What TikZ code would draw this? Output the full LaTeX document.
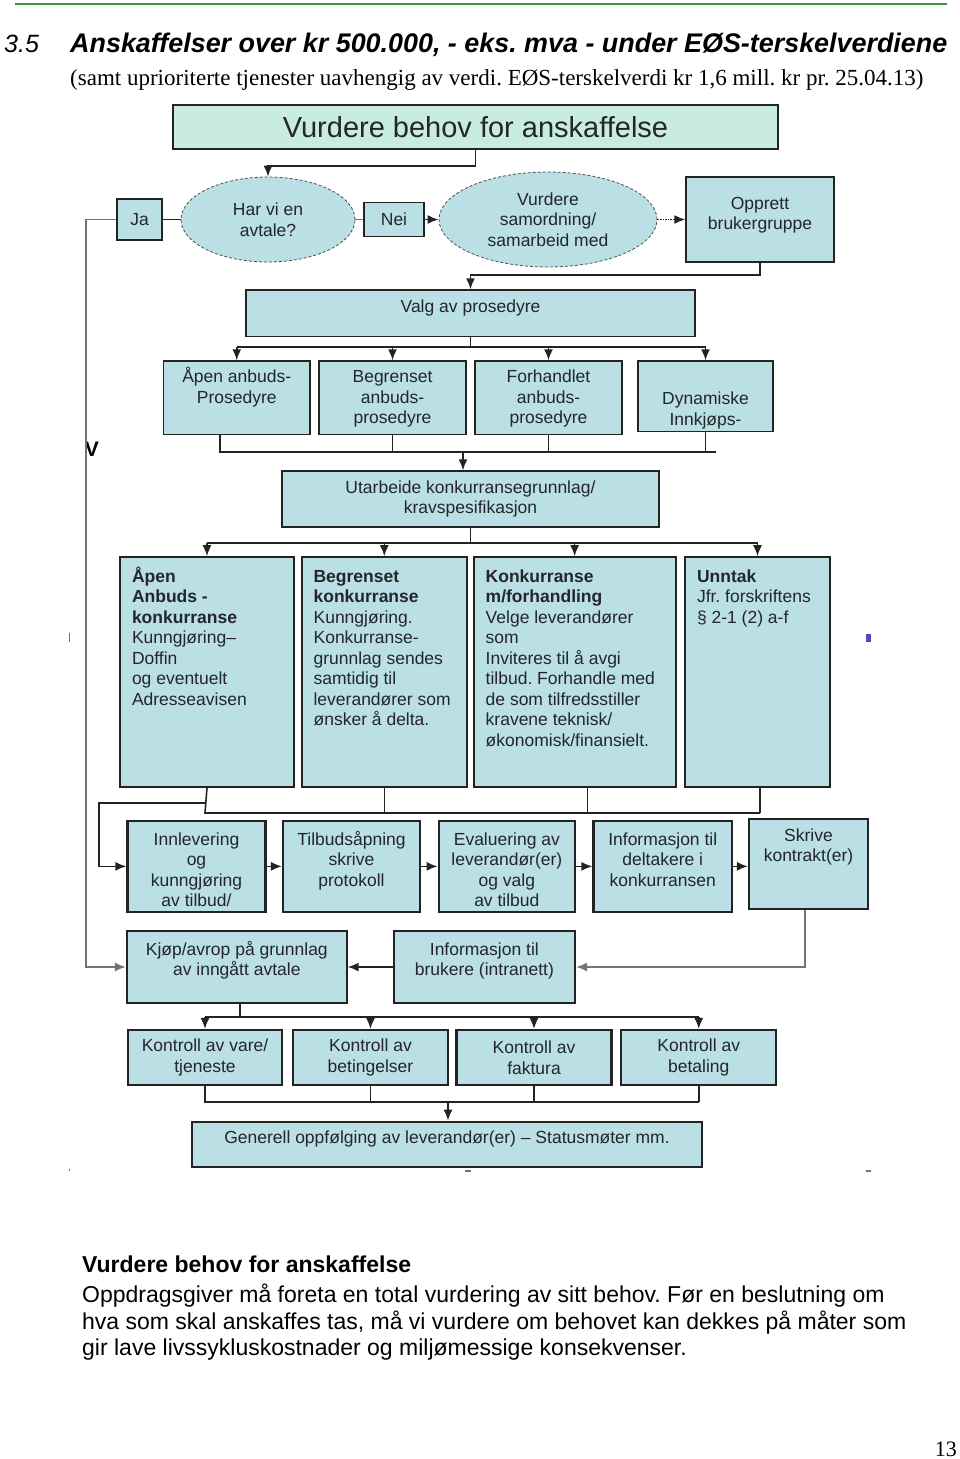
\documentclass[tikz,border=0pt]{standalone}
\usepackage{fontspec}
\setmainfont{Liberation Serif}
\newfontfamily\dsans{Liberation Sans}
\usetikzlibrary{shapes.geometric,arrows.meta}
\frenchspacing

\definecolor{boxblue}{RGB}{186,223,228}
\definecolor{topmint}{RGB}{200,237,222}
\definecolor{boxline}{RGB}{35,35,35}
\definecolor{txtcol}{RGB}{35,38,42}
\definecolor{rulegreen}{RGB}{60,150,60}
\definecolor{linkgray}{RGB}{115,115,115}

% text in a box of fixed size, first baseline #3 below the top
\newcommand{\boxtxt}[4]{\parbox[c][#2][t]{#1}{\hbox{}\vskip\dimexpr#3-\baselineskip\relax#4}}

\tikzset{
  box/.style={draw=boxline, fill=boxblue, line width=1.4pt, inner sep=0pt,
    text=txtcol, font=\dsans\fontsize{17.5}{20.5}\selectfont},
  bigbox/.style={box, line width=2.2pt},
  oval/.style={ellipse, draw=boxline!80, densely dashed, line width=0.8pt,
    fill=boxblue, inner sep=0pt, align=center, text=txtcol,
    font=\dsans\fontsize{17.5}{20.5}\selectfont},
  link/.style={draw=boxline, line width=1.6pt},
  graylink/.style={draw=linkgray, line width=1.7pt}
}

\begin{document}
\begin{tikzpicture}[x=1pt,y=-1pt,>={Latex[length=11pt,width=9pt]}]
\useasboundingbox (0,0) rectangle (960,1459);

% heading
\draw[rulegreen,line width=1.5pt] (15,4) -- (947,4);
\node[anchor=base west,inner sep=0,font=\dsans\itshape\fontsize{25}{30}\selectfont] (secno) at (4,52) {3.5};
\node[anchor=base west,inner sep=0,font=\dsans\bfseries\itshape\fontsize{26.9}{30}\selectfont] (title) at (70,52)
  {Anskaffelser over kr 500.000, - eks. mva - under EØS-terskelverdiene};
\node[anchor=base west,inner sep=0,font=\fontsize{23}{26}\selectfont] (subtitle) at (70,85)
  {(samt uprioriterte tjenester uavhengig av verdi. EØS-terskelverdi kr 1,6 mill. kr pr. 25.04.13)};

% need and agreement
\node[box,fill=topmint,minimum width=605,minimum height=44,font=\dsans\fontsize{29}{32}\selectfont] (behov) at (475.5,127) {Vurdere behov for anskaffelse};
\node[oval,minimum width=174,minimum height=85] (avtale) at (268,219.5) {Har vi en\\avtale?};
\node[box,minimum width=45,minimum height=41] (ja) at (139.5,219.5) {Ja};
\node[box,minimum width=60,minimum height=34] (nei) at (394,219.5) {Nei};
\node[oval,minimum width=218,minimum height=95] (samord) at (548,219.5) {Vurdere\\samordning/\\samarbeid med};
\node[box] (bruker) at (760,219.5) {\boxtxt{148pt}{85pt}{32pt}{\centering Opprett\\brukergruppe}};
\node[font=\dsans\bfseries\fontsize{21}{24}\selectfont,inner sep=0] (vmark) at (92,449) {V};

% procedures
\node[box] (valg) at (470.5,313.25) {\boxtxt{449pt}{46.5pt}{22pt}{\centering Valg av prosedyre}};
\node[box] (aapen) at (236.75,397.6) {\boxtxt{146.5pt}{73.3pt}{22pt}{\centering Åpen anbuds-\\Prosedyre}};
\node[box] (begr) at (392.5,397.6) {\boxtxt{147pt}{73.3pt}{22pt}{\centering Begrenset\\anbuds-\\prosedyre}};
\node[box] (forh) at (548.5,397.6) {\boxtxt{147pt}{73.3pt}{22pt}{\centering Forhandlet\\anbuds-\\prosedyre}};
\node[box] (dyn) at (705.5,396.3) {\boxtxt{135pt}{70.7pt}{44pt}{\centering Dynamiske\\Innkjøps-}};
\node[box,minimum width=377,minimum height=56,align=center] (utarb) at (470.5,499) {Utarbeide konkurransegrunnlag/\\kravspesifikasjon};

% competition forms
\node[bigbox] (apenk) at (207,672) {\boxtxt{174pt}{229.4pt}{24.7pt}{\raggedright\leftskip=12pt
  \textbf{Åpen}\\\textbf{Anbuds -}\\\textbf{konkurranse}\\Kunngjøring–\\Doffin\\og eventuelt\\Adresseavisen}};
\node[bigbox] (begrk) at (384.3,672) {\boxtxt{165.4pt}{229.4pt}{24.7pt}{\raggedright\leftskip=12pt
  \textbf{Begrenset}\\\textbf{konkurranse}\\Kunngjøring.\\Konkurranse-\\grunnlag sendes\\samtidig til\\leverandører som\\ønsker å delta.}};
\node[bigbox] (forhk) at (574.65,672) {\boxtxt{201.9pt}{229.4pt}{24.7pt}{\raggedright\leftskip=12pt
  \textbf{Konkurranse}\\\textbf{m/forhandling}\\Velge leverandører\\som\\Inviteres til å avgi\\tilbud. Forhandle med\\de som tilfredsstiller\\kravene teknisk/\\økonomisk/finansielt.}};
\node[bigbox] (unntak) at (757.5,672) {\boxtxt{145pt}{229.4pt}{24.7pt}{\raggedright\leftskip=12pt
  \textbf{Unntak}\\Jfr. forskriftens\\§ 2-1 (2) a-f}};

% tender steps
\node[bigbox] (innlev) at (196.5,866.35) {\boxtxt{138pt}{90.7pt}{24pt}{\centering Innlevering\\og\\kunngjøring\\av tilbud/}};
\node[bigbox] (tilbud) at (351.5,866.35) {\boxtxt{137pt}{90.7pt}{24pt}{\centering Tilbudsåpning\\skrive\\protokoll}};
\node[bigbox] (evalu) at (506.85,866.35) {\boxtxt{136.3pt}{90.7pt}{24pt}{\centering Evaluering av\\leverandør(er)\\og valg\\av tilbud}};
\node[bigbox] (infodel) at (662.75,866.35) {\boxtxt{138.5pt}{90.7pt}{24pt}{\centering Informasjon til\\deltakere i\\konkurransen}};
\node[bigbox] (skrive) at (808.5,864) {\boxtxt{119pt}{90pt}{22pt}{\centering Skrive\\kontrakt(er)}};
\node[bigbox] (kjop) at (236.8,967) {\boxtxt{219.6pt}{72pt}{24pt}{\centering Kjøp/avrop på grunnlag\\av inngått avtale}};
\node[bigbox] (infobr) at (484.35,967) {\boxtxt{181.3pt}{72pt}{24pt}{\centering Informasjon til\\brukere (intranett)}};

% follow-up
\node[bigbox,minimum width=154,minimum height=55,align=center] (kvare) at (205,1057.5) {Kontroll av vare/\\tjeneste};
\node[bigbox,minimum width=155,minimum height=55,align=center] (kbet) at (370.5,1057.5) {Kontroll av\\betingelser};
\node[bigbox,minimum width=155,minimum height=55,align=center] (kfakt) at (534,1057.5) {Kontroll av\\faktura};
\node[bigbox,minimum width=155,minimum height=55,align=center] (kbetal) at (698.75,1057.5) {Kontroll av\\betaling};
\node[bigbox] (generell) at (447,1144.2) {\boxtxt{510pt}{45pt}{22pt}{\centering Generell oppfølging av leverandør(er) – Statusmøter mm.}};

% connectors, top
\draw[link,->] (behov.south) -- ++(0,16) -| (avtale.north);
\draw[link] (ja.east) -- (avtale.west);
\draw[graylink] (avtale.east) -- (nei.west);
\draw[link,->] (nei.east) -- (samord.west);
\draw[link,->,densely dotted] (samord.east) -- (bruker.west);
\draw[link,->] (bruker.south) -- ++(0,12.5) -| (valg.north);
\draw[graylink,->] (ja.west) -- ++(-30,0) |- (kjop.west);

% connectors, procedures
\coordinate (valgfork) at (470.5,346.7);
\draw[link] (valg.south) -- (valgfork);
\draw[link] (aapen.north |- valgfork) -- (dyn.north |- valgfork);
\foreach \n in {aapen,begr,forh,dyn}
  \draw[link,->] (\n.north |- valgfork) -- (\n.north);
\coordinate (prosjoin) at (463,451.7);
\draw[link] ([xshift=-17pt]aapen.south) |- ([xshift=10.5pt]dyn.south |- prosjoin);
\foreach \n in {begr,forh,dyn}
  \draw[link] (\n.south) -- (\n.south |- prosjoin);
\draw[link,->] (prosjoin) -- (prosjoin |- utarb.north);

% connectors, competition forms
\coordinate (utfork) at (470.5,542.7);
\draw[link] (utarb.south) -- (utfork);
\draw[link] (apenk.north |- utfork) -- (unntak.north |- utfork);
\foreach \n in {apenk,begrk,forhk,unntak}
  \draw[link,->] (\n.north |- utfork) -- (\n.north);
\coordinate (kjoin) at (205,813);
\coordinate (innfork) at (205,802.7);
\draw[link] (apenk.south) -- (kjoin) -- ([xshift=2.5pt]unntak.south |- kjoin);
\draw[link] (begrk.south) -- (begrk.south |- kjoin);
\draw[link] ([xshift=13pt]forhk.south) -- ([xshift=13pt]forhk.south |- kjoin);
\draw[link] ([xshift=2.5pt]unntak.south) -- ([xshift=2.5pt]unntak.south |- kjoin);
\draw[link,->] (innfork) -- ++(-106,0) |- (innlev.west);

% connectors, tender steps
\foreach \a/\b in {innlev/tilbud,tilbud/evalu,evalu/infodel,infodel/skrive}
  \draw[link,->] (\a.east) -- (\a.east -| \b.west);
\draw[graylink,->] ([xshift=-3.5pt]skrive.south) |- (infobr.east);
\draw[link,->] (infobr.west) -- (kjop.east);

% connectors, follow-up
\coordinate (kfork) at (240,1017);
\draw[link] ([xshift=3.2pt]kjop.south) -- (kfork);
\draw[link] (kvare.north |- kfork) -- (kbetal.north |- kfork);
\foreach \n in {kvare,kbet,kfakt,kbetal}
  \draw[link,->] (\n.north |- kfork) -- (\n.north);
\coordinate (gjoin) at (448,1101.7);
\draw[link] (kvare.south) |- (kbetal.south |- gjoin);
\foreach \n in {kbet,kfakt,kbetal}
  \draw[link] (\n.south) -- (\n.south |- gjoin);
\draw[link,->] (gjoin) -- (gjoin |- generell.north);

% small marks on the page
\fill[linkgray] (68.5,633) rectangle (70,642);
\fill[blue!40!gray] (866,634) rectangle (871,642);
\fill[linkgray] (68.5,1169) rectangle (70,1171);
\fill[linkgray] (465,1170) rectangle (471,1172);
\fill[linkgray] (866,1170) rectangle (871,1172);

% text below
\node[anchor=north west,inner sep=0,align=left,font=\dsans\fontsize{23}{26.5}\selectfont] (notes) at (82,1256)
  {\textbf{Vurdere behov for anskaffelse}\\[3.5pt]
   Oppdragsgiver må foreta en total vurdering av sitt behov. Før en beslutning om\\
   hva som skal anskaffes tas, må vi vurdere om behovet kan dekkes på måter som\\
   gir lave livssykluskostnader og miljømessige konsekvenser.};
\node[anchor=base east,inner sep=0,font=\fontsize{22}{24}\selectfont] (pageno) at (957,1456) {13};
\end{tikzpicture}
\end{document}
